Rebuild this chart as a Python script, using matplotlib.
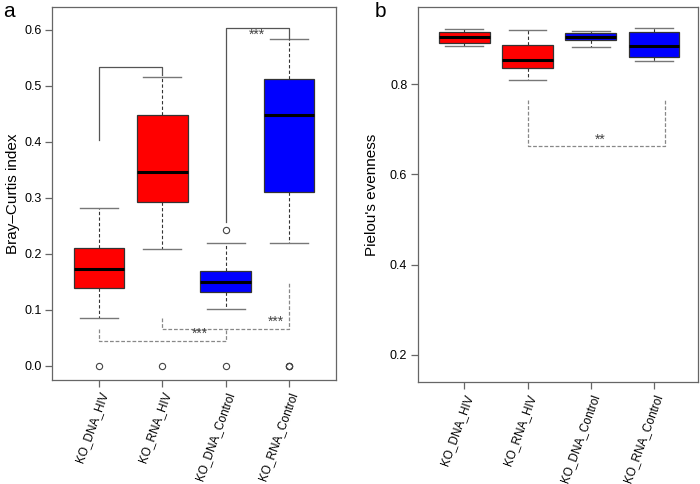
import matplotlib
matplotlib.use("Agg")
import matplotlib.pyplot as plt

plt.rcParams['font.family'] = ['Liberation Sans', 'DejaVu Sans']

# ---------------------------------------------------------
# Data
# ---------------------------------------------------------
groups = ["KO_DNA_HIV", "KO_RNA_HIV", "KO_DNA_Control", "KO_RNA_Control"]
box_colors = ["#ff0000", "#ff0000", "#0000ff", "#0000ff"]

# panel a: Bray-Curtis
bc_whislo = [0.086, 0.209, 0.102, 0.220]
bc_q1 = [0.140, 0.292, 0.132, 0.311]
bc_med = [0.173, 0.346, 0.150, 0.449]
bc_q3 = [0.211, 0.448, 0.170, 0.512]
bc_whishi = [0.282, 0.516, 0.219, 0.583]
bc_fliers = [[0.0], [0.0], [0.0, 0.243], [0.0, 0.0, 0.0]]

# panel b: Pielou's evenness
pe_whislo = [0.885, 0.808, 0.883, 0.851]
pe_q1 = [0.892, 0.835, 0.898, 0.859]
pe_med = [0.905, 0.854, 0.905, 0.885]
pe_q3 = [0.915, 0.887, 0.913, 0.915]
pe_whishi = [0.921, 0.920, 0.917, 0.925]
pe_fliers = [[], [], [], []]

# significance brackets: (x1, x2, y1_start, y_bar, y2_end, label, label_x, dashed)
bc_brackets = [
    (1, 2, 0.404, 0.533, 0.520, "", None, False),
    (3, 4, 0.257, 0.604, 0.584, "***", 3.5, False),
    (1, 3, 0.066, 0.0446, 0.066, "***", 2.6, True),
    (2, 4, 0.0857, 0.066, 0.1506, "***", 3.8, True),
]
pe_brackets = [
    (2, 4.18, 0.765, 0.662, 0.765, "**", 3.15, True),
]


def make_stats(wl, q1, med, q3, wh, fl):
    return [dict(whislo=a, q1=b, med=c, q3=d, whishi=e, fliers=f)
            for a, b, c, d, e, f in zip(wl, q1, med, q3, wh, fl)]


def draw_boxes(ax, stats):
    bp = ax.bxp(stats, positions=range(1, len(stats) + 1), widths=0.8,
                patch_artist=True, showfliers=True,
                boxprops=dict(edgecolor="#333333", linewidth=0.9),
                medianprops=dict(color="black", linewidth=2.2),
                whiskerprops=dict(color="#333333", linestyle=(0, (3, 2)), linewidth=0.8),
                capprops=dict(color="#777777", linewidth=1.0),
                flierprops=dict(marker="o", markerfacecolor="none",
                                markeredgecolor="#444444", markersize=4.5,
                                markeredgewidth=0.8))
    for patch, c in zip(bp["boxes"], box_colors):
        patch.set_facecolor(c)
    for cap in bp["caps"]:
        xd = cap.get_xdata()
        mid = (xd[0] + xd[1]) / 2
        cap.set_xdata([mid - 0.3, mid + 0.3])


def draw_brackets(ax, brackets, above):
    for x1, x2, y1, yb, y2, lab, lx, dashed in brackets:
        ls = (0, (3, 1.5)) if dashed else "-"
        col = "#888888" if dashed else "#555555"
        ax.plot([x1, x1, x2, x2], [y1, yb, yb, y2], color=col,
                linestyle=ls, linewidth=0.9)
        if lab:
            if above:
                ax.text(lx, yb, lab, ha="center", va="bottom", fontsize=10,
                        color="#444444")
            else:
                ax.text(lx, yb, lab, ha="center", va="top", fontsize=10,
                        color="#444444")


def style_axes(ax):
    for s in ax.spines.values():
        s.set_color("#666666")
        s.set_linewidth(0.9)
    ax.tick_params(axis="both", direction="out", length=5, color="#666666",
                   labelsize=9, width=0.9, pad=2.5)
    ax.set_xticks(range(1, len(groups) + 1))
    ax.set_xticklabels(groups, rotation=70, ha="right", va="top",
                       rotation_mode="anchor", fontsize=8.5)


fig = plt.figure(figsize=(7, 4.84), dpi=100)

# panel a
ax1 = fig.add_axes([0.0743, 0.2149, 0.4057, 0.7706])
draw_boxes(ax1, make_stats(bc_whislo, bc_q1, bc_med, bc_q3, bc_whishi, bc_fliers))
draw_brackets(ax1, bc_brackets[:2], above=False)
draw_brackets(ax1, bc_brackets[2:], above=True)
ax1.set_xlim(0.254, 4.746)
ax1.set_ylim(-0.025, 0.641)
ax1.set_yticks([0.0, 0.1, 0.2, 0.3, 0.4, 0.5, 0.6])
ax1.set_yticklabels(["0.0", "0.1", "0.2", "0.3", "0.4", "0.5", "0.6"])
ax1.set_ylabel("Bray\u2013Curtis index", fontsize=11, labelpad=3)
style_axes(ax1)
fig.text(0.005, 0.995, "a", fontsize=15, ha="left", va="top")

# panel b
ax2 = fig.add_axes([0.5967, 0.2107, 0.4004, 0.7742])
draw_boxes(ax2, make_stats(pe_whislo, pe_q1, pe_med, pe_q3, pe_whishi, pe_fliers))
draw_brackets(ax2, pe_brackets, above=True)
ax2.set_xlim(0.26, 4.70)
ax2.set_ylim(0.140, 0.970)
ax2.set_yticks([0.2, 0.4, 0.6, 0.8])
ax2.set_ylabel("Pielou's evenness", fontsize=11, labelpad=8)
style_axes(ax2)
fig.text(0.535, 0.995, "b", fontsize=15, ha="left", va="top")

fig.savefig("out.png", dpi=100)
